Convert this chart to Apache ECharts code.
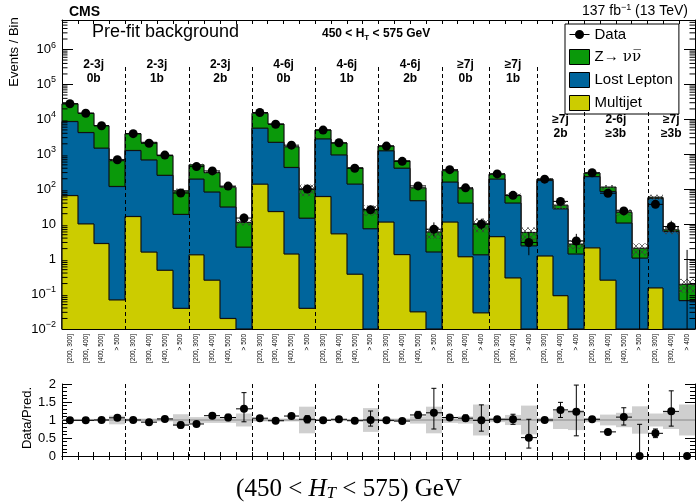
<!DOCTYPE html>
<html><head><meta charset="utf-8">
<script src="https://cdn.jsdelivr.net/npm/echarts@6/dist/echarts.min.js"></script>
<style>html,body{margin:0;padding:0;background:#fff}#c{width:696px;height:503px}</style>
</head><body><div id="c"></div>
<script>
// ---------------- data ----------------
const groupJets  = ['2-3j','2-3j','2-3j','4-6j','4-6j','4-6j','\u22657j','\u22657j','\u22657j','2-6j','\u22657j'];
const groupBtags = ['0b','1b','2b','0b','1b','2b','0b','1b','2b','\u22653b','\u22653b'];
const htLabels4 = ['[200, 300]','[300, 400]','[400, 500]','> 500'];
const htLabels3 = ['[200, 300]','[300, 400]','> 400'];
const groupHtLabels = [htLabels4,htLabels4,htLabels4,htLabels4,htLabels4,htLabels4,htLabels3,htLabels3,htLabels3,htLabels4,htLabels3];

const multijet   = [66,10.2,2.8,0.068, 16.6,1.59,0.48,0.039, 1.33,0.25,0.02,0, 140,23,1.4,0.039, 62,5.3,0.37,0, 11.5,1.35,0.031,0, 11.5,1.17,0.029, 4.4,0.29,0, 1.23,0.09,0, 2.1,0.25,0,0, 0.15,0,0];
const lostLepton = [8630,4190,1500,120, 1270,688,250,19, 194,83,31,2.2, 5460,2180,419,14.8, 2700,955,140,7.4, 1250,399,47,1.6, 149,39,1.3, 191,40,2.4, 177,27.4,1.4, 228,86,10.8,1.07, 55,6.2,0.065];
const zinv       = [19300,10800,5100,540, 2610,1510,670,71, 305,217,84,9.1, 9400,5200,1230,85, 2240,1140,270,18.6, 480,250,63,4.4, 180,65,8.9, 75,26,3.4, 17,7.6,1.3, 60,29,11.2,0.98, 4,0.7,0.125];
const data       = [28000,15000,6600,700, 3900,2070,950,78, 445,335,123,15, 15700,7250,1830,102, 4950,2140,400,26, 1720,630,125,7.2, 364,110,10, 275,67,3, 195,45,3.3, 296,77,24,0, 37,8.6,0];
const zeroCountUpper = 1.84;

const ratio   = [0.99,0.99,1.00,1.06, 1.00,0.94,1.03,0.86, 0.89,1.12,1.07,1.31, 1.05,0.98,1.11,1.02, 0.99,1.02,0.98,1.00, 0.99,0.97,1.14,1.20, 1.07,1.05,0.99, 1.02,1.02,0.51, 1.00,1.28,1.23, 1.02,0.67,1.08,0.00, 0.63,1.24,0.00];
const ratioLo = [0.98,0.98,0.99,1.02, 0.98,0.92,0.99,0.78, 0.85,1.06,0.98,0.95, 1.04,0.97,1.08,0.92, 0.97,0.99,0.93,0.83, 0.96,0.93,1.05,0.75, 1.01,0.97,0.69, 0.96,0.88,0.22, 0.93,1.07,0.56, 0.96,0.62,0.86,0.00, 0.51,0.83,0.00];
const ratioHi = [1.00,1.00,1.01,1.10, 1.02,0.96,1.07,0.94, 0.93,1.18,1.16,1.76, 1.06,0.99,1.14,1.12, 1.01,1.05,1.03,1.25, 1.02,1.01,1.24,1.88, 1.13,1.14,1.42, 1.08,1.16,1.02, 1.07,1.49,1.97, 1.08,0.72,1.34,0.88, 0.75,1.81,0.00];
const predUnc = [0.03,0.03,0.03,0.12, 0.04,0.04,0.04,0.16, 0.08,0.08,0.08,0.18, 0.04,0.04,0.04,0.37, 0.03,0.03,0.03,0.33, 0.04,0.04,0.10,0.37, 0.08,0.10,0.43, 0.06,0.14,0.40, 0.06,0.25,0.28, 0.06,0.15,0.20,0.38, 0.18,0.25,0.43];

// ---------------- derived ----------------
const binLabels = [].concat(...groupHtLabels);
const NB = binLabels.length;
const groupStart = []; { let a = 0; groupHtLabels.forEach(g => { groupStart.push(a); a += g.length; }); }
const boundaries = groupStart.slice(1);
const cumMJ = multijet.slice();
const cumLL = multijet.map((v, i) => v + lostLepton[i]);
const cumTot = cumLL.map((v, i) => v + zinv[i]);

const F = 'Liberation Sans, Arial, Helvetica, sans-serif';
const C_GREEN = '#0a990a', C_BLUE = '#00659c', C_YELLOW = '#cccc00';
const LOW_LABEL_FROM = 8; // groups from this index have labels placed lower (below legend)
const NAME_Z = 'Z\u2192 \u03bd\u03bd\u0305';

// cross-hatch pattern for the stack uncertainty
const hatch = document.createElement('canvas');
hatch.width = 6; hatch.height = 6;
{ const g = hatch.getContext('2d'); g.strokeStyle = 'rgba(60,60,60,0.75)'; g.lineWidth = 1;
  g.beginPath(); g.moveTo(0, 0); g.lineTo(6, 6); g.moveTo(6, 0); g.lineTo(0, 6); g.stroke(); }

function binEdges(api, cs, i) {
  const bw = cs.width / NB;
  const xc = api.coord([i, 1])[0];
  return [Math.round(xc - bw / 2), Math.round(xc + bw / 2), xc, bw];
}

function stackLayer(name, cum, color) {
  return {
    type: 'custom', name, xAxisIndex: 0, yAxisIndex: 0, z: 2,
    itemStyle: { color, borderColor: '#000', borderWidth: 1 },
    data: cum.map((v, i) => [i, v, i > 0 ? cum[i - 1] : 0]),
    encode: { x: 0, y: 1 },
    renderItem(params, api) {
      const cs = params.coordSys;
      const i = api.value(0), v = api.value(1), pv = api.value(2);
      const [x0, x1] = binEdges(api, cs, i);
      const yb = cs.y + cs.height;
      const yOf = val => val > 0 ? Math.min(yb, Math.max(cs.y, api.coord([i, val])[1])) : yb;
      const y = yOf(v), py = i > 0 ? yOf(pv) : yb;
      const ch = [];
      if (y < yb) ch.push({ type: 'rect', shape: { x: x0, y, width: x1 - x0, height: yb - y }, style: { fill: color } });
      ch.push({ type: 'line', shape: { x1: x0, y1: y, x2: x1, y2: y }, style: { stroke: '#111', lineWidth: 1.2 } });
      ch.push({ type: 'line', shape: { x1: x0, y1: py, x2: x0, y2: y }, style: { stroke: '#111', lineWidth: 1.2 } });
      return { type: 'group', children: ch };
    }
  };
}

const logFmt = v => {
  const l = Math.log10(v), e = Math.round(l);
  if (Math.abs(l - e) > 1e-6) return '';
  if (e === 0) return '1';
  if (e === 1) return '10';
  return '{b|10}{s|' + (e < 0 ? '\u2212' + (-e) : e) + '}';
};

const minorVals = [];
for (let k = -2; k <= 6; k++) for (let m = 2; m <= 9; m++) { const v = m * Math.pow(10, k); if (v < 7e6) minorVals.push([0, v]); }

const axBase = {
  axisLine: { show: true, lineStyle: { color: '#000', width: 1 } },
  axisTick: { show: true, inside: true, lineStyle: { color: '#000' } },
  splitLine: { show: false }
};

const dataIcon = 'path://M0,7 L22,7 L22,8 L0,8 Z M16,7.5 A5,5 0 1 1 6,7.5 A5,5 0 1 1 16,7.5 Z';

const option = {
  animation: false,
  backgroundColor: '#fff',
  textStyle: { fontFamily: F },
  grid: [
    { left: 62, top: 20, width: 633, height: 309 },
    { left: 62, top: 384, width: 633, height: 72 }
  ],
  legend: {
    orient: 'vertical', left: 565, top: 24,
    itemWidth: 20, itemHeight: 15, itemGap: 7, itemStyle: { borderColor: '#000', borderWidth: 1 },
    padding: [3, 6, 3, 4], backgroundColor: '#fff', borderColor: '#000', borderWidth: 1, borderRadius: 0,
    textStyle: { fontSize: 15, color: '#000', fontFamily: F,
      rich: { n: { fontSize: 15, fontFamily: 'DejaVu Serif, serif', color: '#000' } } },
    formatter: name => name === NAME_Z ? 'Z\u2192 {n|\u03bd\u03bd\u0305}' : name,
    data: [
      { name: 'Data', icon: dataIcon, itemStyle: { color: '#000', borderWidth: 0 } },
      { name: NAME_Z, icon: 'rect' },
      { name: 'Lost Lepton', icon: 'rect' },
      { name: 'Multijet', icon: 'rect' }
    ],
    selectedMode: false
  },
  xAxis: [
    Object.assign({}, axBase, { type: 'category', gridIndex: 0, data: binLabels, position: 'bottom',
      axisTick: { show: true, inside: true, length: 4, interval: 0, lineStyle: { color: '#000' } },
      axisLabel: { rotate: 90, interval: 0, fontSize: 6.5, color: '#000', margin: 5, fontFamily: F } }),
    Object.assign({}, axBase, { type: 'category', gridIndex: 0, data: binLabels, position: 'top',
      axisTick: { show: true, inside: true, length: 4, interval: 0, lineStyle: { color: '#000' } }, axisLabel: { show: false } }),
    Object.assign({}, axBase, { type: 'category', gridIndex: 1, data: binLabels, position: 'bottom',
      axisTick: { show: true, inside: true, length: 4, interval: 0, lineStyle: { color: '#000' } }, axisLabel: { show: false } }),
    Object.assign({}, axBase, { type: 'category', gridIndex: 1, data: binLabels, position: 'top',
      axisTick: { show: true, inside: true, length: 4, interval: 0, lineStyle: { color: '#000' } }, axisLabel: { show: false } })
  ],
  yAxis: [
    Object.assign({}, axBase, { type: 'log', logBase: 10, gridIndex: 0, min: 0.01, max: 7e6, interval: 1, splitNumber: 9,
      axisTick: { show: true, inside: true, length: 11, lineStyle: { color: '#000' } },
      axisLabel: { formatter: logFmt, color: '#000', fontSize: 13, margin: 6, fontFamily: F,
        rich: { b: { fontSize: 13, color: '#000', fontFamily: F }, s: { fontSize: 9, color: '#000', padding: [0, 0, 9, 0], fontFamily: F } } } }),
    Object.assign({}, axBase, { type: 'log', logBase: 10, gridIndex: 0, position: 'right', min: 0.01, max: 7e6, interval: 1, splitNumber: 9,
      axisTick: { show: true, inside: true, length: 11, lineStyle: { color: '#000' } }, axisLabel: { show: false } }),
    Object.assign({}, axBase, { type: 'value', gridIndex: 1, min: 0, max: 2, interval: 0.5,
      axisTick: { show: true, inside: true, length: 10, lineStyle: { color: '#000' } },
      minorTick: { show: true, splitNumber: 5, length: 5, lineStyle: { color: '#000' } },
      axisLabel: { color: '#000', fontSize: 13, margin: 6, fontFamily: F } }),
    Object.assign({}, axBase, { type: 'value', gridIndex: 1, position: 'right', min: 0, max: 2, interval: 0.5,
      axisTick: { show: true, inside: true, length: 10, lineStyle: { color: '#000' } },
      minorTick: { show: true, splitNumber: 5, length: 5, lineStyle: { color: '#000' } },
      axisLabel: { show: false } })
  ],
  series: [
    stackLayer(NAME_Z, cumTot, C_GREEN),
    stackLayer('Lost Lepton', cumLL, C_BLUE),
    stackLayer('Multijet', cumMJ, C_YELLOW),
    // stack uncertainty (hatched)
    {
      type: 'custom', xAxisIndex: 0, yAxisIndex: 0, z: 3, silent: true,
      data: cumTot.map((t, i) => [i, t, predUnc[i]]), encode: { x: 0, y: 1 },
      renderItem(params, api) {
        const cs = params.coordSys;
        const i = api.value(0), t = api.value(1), u = api.value(2);
        const [x0, x1] = binEdges(api, cs, i);
        const yt = api.coord([i, t * (1 + u)])[1], ybm = api.coord([i, t * (1 - u)])[1];
        return { type: 'rect', shape: { x: x0, y: yt, width: x1 - x0, height: ybm - yt },
          style: { fill: { image: hatch, repeat: 'repeat' } } };
      }
    },
    // minor log ticks
    {
      type: 'custom', xAxisIndex: 0, yAxisIndex: 0, z: 6, silent: true,
      data: minorVals, encode: { x: 0, y: 1 },
      renderItem(params, api) {
        const cs = params.coordSys;
        const y = api.coord([0, api.value(1)])[1];
        return { type: 'group', children: [
          { type: 'line', shape: { x1: cs.x, y1: y, x2: cs.x + 5.5, y2: y }, style: { stroke: '#000', lineWidth: 1 } },
          { type: 'line', shape: { x1: cs.x + cs.width - 5.5, y1: y, x2: cs.x + cs.width, y2: y }, style: { stroke: '#000', lineWidth: 1 } }
        ] };
      }
    },
    // separators top
    {
      type: 'custom', xAxisIndex: 0, yAxisIndex: 0, z: 5, silent: true,
      data: boundaries.map((b, k) => [b, 1, k]), encode: { x: 0, y: 1 },
      renderItem(params, api) {
        const cs = params.coordSys;
        const x = binEdges(api, cs, api.value(0))[0] + 0.5;
        const leftGroup = api.value(2);
        const y0 = cs.y + (leftGroup >= LOW_LABEL_FROM ? 92 : 47);
        return { type: 'line', shape: { x1: x, y1: y0, x2: x, y2: cs.y + cs.height }, style: { stroke: '#000', lineWidth: 1, lineDash: [4, 3] } };
      }
    },
    // group labels
    {
      type: 'custom', xAxisIndex: 0, yAxisIndex: 0, z: 7, silent: true,
      data: groupStart.map((s, g) => [s, 1, g, groupHtLabels[g].length]), encode: { x: 0, y: 1 },
      renderItem(params, api) {
        const cs = params.coordSys, bw = cs.width / NB;
        const g = api.value(2), n = api.value(3);
        const x = api.coord([api.value(0), 1])[0] - bw / 2 + n * bw / 2;
        const y = cs.y + (g >= LOW_LABEL_FROM ? 107 : 52);
        return { type: 'text', style: { x, y, text: groupJets[g] + '\n' + groupBtags[g], align: 'center', verticalAlign: 'middle',
          fontFamily: F, fontWeight: 'bold', fontSize: 12, lineHeight: 14, fill: '#000' } };
      }
    },
    // data points
    {
      type: 'scatter', name: 'Data', xAxisIndex: 0, yAxisIndex: 0, z: 9,
      symbol: 'circle', symbolSize: 9, itemStyle: { color: '#000', opacity: 1 },
      data: data.map((v, i) => v > 0 ? [i, v] : null).filter(d => d)
    },
    // data error bars
    {
      type: 'custom', xAxisIndex: 0, yAxisIndex: 0, z: 8, silent: true,
      data: data.map((v, i) => [i, v > 0 ? v : zeroCountUpper, v]), encode: { x: 0, y: 1 },
      renderItem(params, api) {
        const cs = params.coordSys;
        const i = api.value(0), v = api.value(2);
        const [x0, x1, xc] = binEdges(api, cs, i);
        const yb = cs.y + cs.height;
        const ch = [];
        if (v > 0) {
          const y = api.coord([i, v])[1];
          ch.push({ type: 'line', shape: { x1: x0, y1: y, x2: x1, y2: y }, style: { stroke: '#000', lineWidth: 1 } });
          if (ratio[i] > 0 && ratioHi[i] - ratioLo[i] > 0.05) {
            const hi = v * ratioHi[i] / ratio[i], lo = v * ratioLo[i] / ratio[i];
            const yh = api.coord([i, hi])[1], yl = lo > 0 ? api.coord([i, lo])[1] : yb;
            ch.push({ type: 'line', shape: { x1: xc, y1: yh, x2: xc, y2: yl }, style: { stroke: '#000', lineWidth: 1 } });
          }
        } else {
          const yh = api.coord([i, zeroCountUpper])[1];
          ch.push({ type: 'line', shape: { x1: xc, y1: yh, x2: xc, y2: yb }, style: { stroke: '#000', lineWidth: 1 } });
        }
        return { type: 'group', children: ch };
      }
    },
    // ratio band
    {
      type: 'custom', xAxisIndex: 2, yAxisIndex: 2, z: 2, silent: true,
      data: predUnc.map((u, i) => [i, 1, u]), encode: { x: 0, y: 1 },
      renderItem(params, api) {
        const cs = params.coordSys;
        const i = api.value(0), u = api.value(2);
        const [x0, x1] = binEdges(api, cs, i);
        const yt = api.coord([i, 1 + u])[1], ybm = api.coord([i, 1 - u])[1];
        return { type: 'rect', shape: { x: x0, y: yt, width: x1 - x0, height: ybm - yt }, style: { fill: '#cfcfcf' } };
      }
    },
    // ratio unity line
    {
      type: 'custom', xAxisIndex: 2, yAxisIndex: 2, z: 3, silent: true,
      data: [[0, 1]], encode: { x: 0, y: 1 },
      renderItem(params, api) {
        const cs = params.coordSys;
        const y = api.coord([0, 1])[1];
        return { type: 'line', shape: { x1: cs.x, y1: y, x2: cs.x + cs.width, y2: y }, style: { stroke: '#888', lineWidth: 1 } };
      }
    },
    // separators ratio
    {
      type: 'custom', xAxisIndex: 2, yAxisIndex: 2, z: 4, silent: true,
      data: boundaries.map(b => [b, 1]), encode: { x: 0, y: 1 },
      renderItem(params, api) {
        const cs = params.coordSys;
        const x = binEdges(api, cs, api.value(0))[0] + 0.5;
        return { type: 'line', shape: { x1: x, y1: cs.y, x2: x, y2: cs.y + cs.height }, style: { stroke: '#000', lineWidth: 1, lineDash: [4, 3] } };
      }
    },
    // ratio error bars
    {
      type: 'custom', xAxisIndex: 2, yAxisIndex: 2, z: 8, silent: true,
      data: ratio.map((r, i) => [i, r, ratioLo[i], ratioHi[i]]), encode: { x: 0, y: 1 },
      renderItem(params, api) {
        const cs = params.coordSys;
        const i = api.value(0), r = api.value(1), lo = api.value(2), hi = api.value(3);
        const [x0, x1, xc] = binEdges(api, cs, i);
        const y = api.coord([i, r])[1];
        const ch = [];
        if (r > 0) ch.push({ type: 'line', shape: { x1: x0, y1: y, x2: x1, y2: y }, style: { stroke: '#000', lineWidth: 1 } });
        if (hi > lo) {
          const yh = api.coord([i, hi])[1], yl = api.coord([i, lo])[1];
          ch.push({ type: 'line', shape: { x1: xc, y1: yh, x2: xc, y2: yl }, style: { stroke: '#000', lineWidth: 1 } });
          if (hi - lo > 0.12) {
            ch.push({ type: 'line', shape: { x1: xc - 2.5, y1: yh, x2: xc + 2.5, y2: yh }, style: { stroke: '#000', lineWidth: 1 } });
            if (lo > 0) ch.push({ type: 'line', shape: { x1: xc - 2.5, y1: yl, x2: xc + 2.5, y2: yl }, style: { stroke: '#000', lineWidth: 1 } });
          }
        }
        return { type: 'group', children: ch };
      }
    },
    {
      type: 'scatter', xAxisIndex: 2, yAxisIndex: 2, z: 9, clip: false,
      symbol: 'circle', symbolSize: 8, itemStyle: { color: '#000', opacity: 1 },
      data: ratio.map((r, i) => [i, r])
    }
  ],
  graphic: [
    { type: 'text', left: 69, top: 5, style: { text: 'CMS', fontFamily: F, fontWeight: 'bold', fontSize: 14, fill: '#000' } },
    { type: 'text', right: 8, top: 3, style: { text: '137 fb{s|\u22121} (13 TeV)', fontFamily: F, fontSize: 14, fill: '#000',
        rich: { s: { fontSize: 9, fontFamily: F, padding: [0, 0, 8, 0], fill: '#000' } } } },
    { type: 'text', left: 92, top: 23, style: { text: 'Pre-fit background', fontFamily: F, fontSize: 18, fill: '#000' } },
    { type: 'text', left: 322, top: 28, style: { text: '450 < H{s|T} < 575 GeV', fontFamily: F, fontWeight: 'bold', fontSize: 12, fill: '#000',
        rich: { s: { fontSize: 8, fontWeight: 'bold', fontFamily: F, padding: [7, 0, 0, 0], fill: '#000' } } } },
    { type: 'text', x: 14, y: 52, rotation: Math.PI / 2, style: { text: 'Events / Bin', fontFamily: F, fontSize: 13, fill: '#000', align: 'center', verticalAlign: 'middle' } },
    { type: 'text', x: 27, y: 418, rotation: Math.PI / 2, style: { text: 'Data/Pred.', fontFamily: F, fontSize: 13, fill: '#000', align: 'center', verticalAlign: 'middle' } },
    { type: 'text', x: 349, y: 489, style: { text: '(450 < {i|H}{t|T} < 575) GeV', fontFamily: 'Liberation Serif, DejaVu Serif, serif', fontSize: 25, fill: '#000', align: 'center', verticalAlign: 'middle',
        rich: { i: { fontStyle: 'italic', fontSize: 25, fontFamily: 'Liberation Serif, serif', fill: '#000' },
                t: { fontStyle: 'italic', fontSize: 17, fontFamily: 'Liberation Serif, serif', padding: [10, 0, 0, 0], fill: '#000' } } } }
  ]
};

const chart = echarts.init(document.getElementById('c'), null, { renderer: 'canvas' });
chart.setOption(option);
</script>
</body></html>
